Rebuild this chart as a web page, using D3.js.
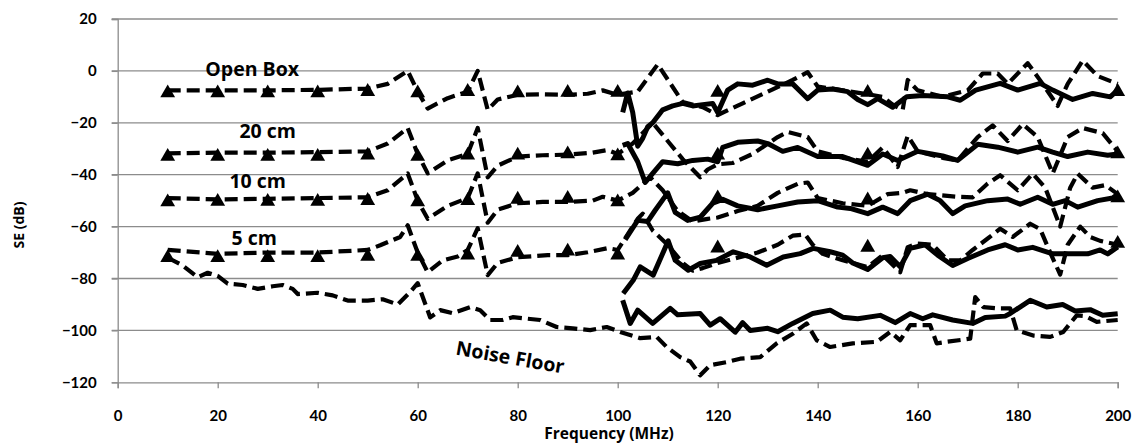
<!DOCTYPE html>
<html>
<head>
<meta charset="utf-8">
<script src="https://cdn.jsdelivr.net/npm/d3@7"></script>
<style>
  html, body { margin: 0; padding: 0; background: #fff; }
  svg { display: block; font-family: "Open Sans", Lato, sans-serif; font-weight: bold; }
</style>
</head>
<body>
<div id="chart"></div>
<script>
// tick values
const xTicks = [0, 20, 40, 60, 80, 100, 120, 140, 160, 180, 200]
const yTicks = [20, 0, -20, -40, -60, -80, -100, -120]

// dashed (swept) curves, [MHz, dB]
const openBoxDashed = [[10,-7.5],[20,-7.5],[30,-7.5],[40,-7.3],[50,-6.8],[54,-5],[58,0],[60,-8],[62,-14.5],[66,-10.5],[70,-8],[72,0],[74,-15],[76,-11],[80,-9.2],[85,-9],[90,-9.2],[94,-8.8],[97,-7.5],[100,-9.2],[104,-8],[108,2.5],[113,-12],[117,-14],[120,-17],[125,-12.5],[130,-8],[135,-3.5],[138,-0.5],[140,-6],[145,-7.5],[150,-9],[153,-10],[155,-13],[157,-15],[158,-3.5],[160,-7.5],[165,-10],[170,-7.5],[173,-1],[176,-1],[178,-5],[182,3],[185,-5],[188,-13.5],[190,-5],[193,4],[196,-2],[200,-5]]
const cm20Dashed = [[10,-31.8],[20,-31.5],[30,-31.5],[40,-31.3],[50,-31],[54,-28],[58,-22],[60,-32],[62,-39.5],[66,-34.5],[70,-32],[72,-22],[74,-41],[76,-36.5],[80,-33],[85,-32.5],[90,-32.3],[95,-31.5],[98,-30.5],[100,-32],[103,-28],[107,-20],[110,-27],[113,-34],[116.5,-41],[118,-38],[120,-36],[123,-35.5],[127,-32],[132,-25.5],[134,-23.5],[138,-25.5],[140,-31],[145,-33.5],[150,-35],[153,-29.5],[156,-37],[158,-25],[160,-31],[165,-33.5],[168,-34.5],[172,-25.5],[175,-21],[178,-27],[181,-20.5],[184,-25.5],[187,-39.5],[190,-25.5],[193,-22],[197,-24],[200,-31]]
const cm10Dashed = [[10,-49],[20,-49.5],[30,-49.3],[40,-49],[50,-48.7],[54,-46],[58,-39.5],[60,-50],[62,-57],[66,-52],[70,-49],[72,-39.5],[74,-58.5],[76,-53.5],[80,-51],[85,-50.5],[90,-50.5],[95,-50],[97,-48.5],[100,-50],[103,-47],[106.5,-41],[109,-46],[112,-54],[115,-58],[118,-57],[120,-56.5],[124,-54],[128,-52],[132,-47],[136,-43.5],[138,-43],[140,-49],[145,-51],[150,-52],[154,-47.5],[157,-47],[158.5,-46],[162,-47.5],[168,-48.5],[171,-48.7],[174,-43.4],[176.5,-40.2],[180,-46],[183,-39.6],[185.5,-45],[188.5,-60],[190.5,-45],[192,-39.6],[195,-45],[197.5,-44],[200,-47.5]]
const cm5Dashed = [[10,-69],[20,-70.5],[30,-70],[40,-70],[50,-69],[52.5,-67.2],[56.5,-64],[58,-59.5],[60,-70],[62,-77.6],[65,-73],[68,-71.5],[70,-69],[72,-60.6],[74,-78.7],[76,-74],[80,-71.8],[86,-71],[90,-71],[94,-69.9],[98,-68.3],[100,-69],[102,-63],[104,-57],[105,-55],[107,-61.5],[110,-67],[113,-74],[115,-77],[117,-76],[120,-74],[124,-72],[128,-70],[132,-67],[135,-63.5],[137.5,-63],[139,-67],[141,-70.5],[145,-73],[150,-75.6],[153,-71],[156.5,-77.6],[158,-67.9],[160,-66.5],[163,-67],[166,-73],[168.5,-73],[171,-69],[174,-64.6],[176.5,-60.8],[179,-64],[182.5,-58.9],[184.5,-61],[186.5,-70],[188.5,-78.5],[190,-67],[192.5,-60],[194.5,-64],[196.5,-65.5],[200,-67]]
const noiseDashed = [[10,-72],[13,-75],[16,-79.5],[18,-77.8],[20,-79],[22,-82],[25,-82.5],[28,-84],[31,-83],[33,-82.5],[35,-84],[36,-86],[40,-85.5],[43,-86.5],[46,-88.5],[50,-88.5],[53,-88],[56,-90],[58.5,-85.2],[60,-81.8],[62.5,-95],[64.5,-92.2],[67,-93.4],[70.5,-91],[72.5,-92.2],[74.5,-96],[77,-96],[79,-94.9],[82,-95.5],[84.5,-96],[87.8,-98.7],[91,-99.2],[94.5,-99.9],[97.8,-98.7],[100.5,-100.6],[104.5,-103],[107.8,-102.5],[109.8,-106.4],[112.5,-110.3],[114.5,-112],[116.5,-117.3],[118.5,-113.4],[121.8,-112.2],[124.5,-110.9],[128.5,-110.3],[131.8,-105],[135.1,-101.2],[137.8,-97.3],[139.8,-103.8],[142.5,-106.4],[147,-105],[151.8,-104.4],[154.5,-100.6],[156.5,-103.8],[158.5,-98],[162.5,-98],[163.8,-105],[165.8,-104.4],[170.5,-103.2],[171.5,-87.2],[173.1,-91],[176,-91.5],[178.5,-91.5],[179.8,-100],[183.1,-102],[186.5,-102.5],[189.1,-100.6],[191.8,-94.2],[193.5,-94.5],[195.8,-96.7],[200,-96]]

// solid curves above 100 MHz, [MHz, dB]
const openBoxSolid = [[101,-16],[102,-8.5],[103,-16],[104,-29],[105,-26],[106,-21.5],[107,-20],[109,-15],[111,-13.5],[113,-12.5],[115,-13.5],[117,-13],[119,-12.6],[120,-16],[122,-7.4],[124,-5],[127,-5.5],[130,-3.6],[132,-5],[135,-5],[138,-10.7],[140,-7.4],[143,-7],[146,-8],[148,-11],[150,-13],[152,-10.7],[155,-14],[157.8,-10],[161,-9.5],[166,-10],[168.5,-11.3],[171.6,-7.4],[176.5,-4.8],[180,-7.4],[184.5,-4.8],[187,-7.4],[191,-11],[195,-8.7],[198.5,-10],[200,-7.4]]
const cm20Solid = [[101,-28.7],[102,-28],[104,-35],[105.5,-43],[107,-39.5],[109,-35],[112,-35.8],[115,-34.5],[118,-34],[120,-35],[121,-29.5],[124,-27.5],[128,-27],[130,-28],[133,-31],[136,-29.5],[140,-33],[145,-33],[150,-36.4],[153,-32],[156,-34.5],[160,-31],[165,-32.8],[168,-34.5],[172,-28.3],[176,-29.4],[180,-31.3],[184,-29.4],[187,-31.3],[190,-33],[194,-31.3],[198,-32.5],[200,-32]]
const cm10Solid = [[101.5,-65],[104,-57.6],[106,-58],[107.5,-53.7],[110,-47],[111.5,-54.5],[114,-57.6],[116.5,-56.4],[119,-51],[121,-49.5],[124,-52],[128,-53.5],[132,-52],[136,-50.5],[140,-50],[144,-52.5],[146.5,-53],[150,-55],[153,-52.5],[156,-55],[158.5,-50],[162,-47.5],[164.5,-50],[167,-55],[169.5,-52],[174,-50],[178,-49.4],[180.5,-51.4],[184,-48.7],[187,-51.4],[189.5,-50],[192,-52.5],[196,-50],[199,-49],[200,-47.5]]
const cm5Solid = [[101.1,-85.8],[103.1,-80.7],[104.5,-75.5],[107.1,-78.7],[110.1,-65.5],[111.5,-73],[114.1,-76.8],[116.5,-74.2],[119.8,-73],[123.1,-69.7],[126.5,-71.7],[129.8,-74.9],[133.1,-71.7],[136.5,-70.4],[139.1,-68.4],[142.5,-69.7],[145,-71],[147,-74],[150,-76.5],[153,-72],[154.5,-71.5],[156.5,-75.5],[158.5,-68.4],[161.5,-67],[164,-71],[167,-75],[170,-72.3],[174,-69],[177.5,-67],[180,-69],[183,-68],[187,-70.5],[189.5,-70.5],[194,-70.5],[196.5,-69],[198,-70.5],[200,-67.8]]
const noiseSolid = [[101,-88.4],[102.5,-97.3],[104,-92.2],[107,-97.3],[110.5,-91.5],[112,-94],[116.5,-93.5],[118.5,-98],[120.5,-95.5],[123.5,-100.7],[125,-97],[126.5,-100],[130,-99.2],[132,-100.5],[135,-97.3],[139,-93.5],[142.5,-92.2],[145,-94.9],[148,-95.5],[152.5,-94.2],[155.5,-97],[158.5,-93.5],[161,-95.5],[163,-94],[167,-96],[171,-97.3],[173.5,-95],[177.5,-94.5],[178.5,-93.5],[182.5,-88.4],[185.8,-91],[189,-90],[191.5,-92.5],[194.5,-92],[197,-94.2],[200,-93.6]]

// triangle markers
const markerFreqs = [10, 20, 30, 40, 50, 60, 70, 80, 90, 100, 120, 150, 200]
const openBoxMarks = [-8.5, -8.5, -8.5, -8.5, -8, -8.5, -8, -8.5, -8.3, -8.3, -8.3, -8.3, -8]
const cm20Marks = [-33, -33, -33, -33, -32.5, -33, -32.5, -32.5, -32, -32.8, -32.5, -32.5, -32]
const cm10Marks = [-50.5, -50.3, -50.3, -50.3, -50, -50.5, -50, -49.5, -49.2, -50.5, -49, -49.8, -49]
const cm5Marks = [-72, -72, -72, -72, -71.5, -71.5, -71, -70, -69.5, -71, -68.3, -68, -66.5]

// curve labels [text, MHz, dB, angle]
const curveLabels = [
    ['Open Box', 26.9, -2, 0],
    ['20 cm', 30, -26, 0],
    ['10 cm', 28, -45.2, 0],
    ['5 cm', 27.3, -67.2, 0],
    ['Noise Floor', 78.5, -110.4, 10]
]

const W = 1136, H = 443
const margin = {left: 117.7, right: W - 1117.7, top: 19, bottom: H - 382.3}

const svg = d3.select('#chart').append('svg')
    .attr('width', W)
    .attr('height', H)

const x = d3.scaleLinear().domain([0, 200]).range([margin.left, W - margin.right])
const y = d3.scaleLinear().domain([-120, 20]).range([H - margin.bottom, margin.top])

// gridlines
svg.append('g')
    .selectAll('line')
    .data(yTicks.filter(d => d > -120))
    .enter()
    .append('line')
    .attr('x1', x(0) - 6)
    .attr('x2', x(200))
    .attr('y1', d => y(d))
    .attr('y2', d => y(d))
    .attr('stroke', '#8c8c8c')
    .attr('stroke-width', 1.3)

// y axis
const yAxis = svg.append('g')
    .attr('transform', `translate(${x(0)},0)`)
    .call(d3.axisLeft(y).tickValues(yTicks).tickSize(6).tickPadding(15))
yAxis.select('.domain').attr('stroke', '#8c8c8c').attr('stroke-width', 1.3)
yAxis.selectAll('.tick line').attr('stroke', '#8c8c8c').attr('stroke-width', 1.3)
yAxis.selectAll('.tick text')
    .attr('font-size', 15)
    .attr('font-family', 'Lato, sans-serif')
    .attr('font-weight', 'bold')
    .attr('fill', '#000')

// x axis
const xAxis = svg.append('g')
    .attr('transform', `translate(0,${y(-120)})`)
    .call(d3.axisBottom(x).tickValues(xTicks).tickSize(6).tickPadding(22))
xAxis.select('.domain').attr('stroke', '#8c8c8c').attr('stroke-width', 1.3)
xAxis.selectAll('.tick line').attr('stroke', '#8c8c8c').attr('stroke-width', 1.3)
xAxis.selectAll('.tick text')
    .attr('font-size', 15)
    .attr('font-family', 'Lato, sans-serif')
    .attr('font-weight', 'bold')
    .attr('fill', '#000')

// axis titles
svg.append('text')
    .attr('x', 609)
    .attr('y', 439)
    .attr('text-anchor', 'middle')
    .attr('font-size', 15.5)
    .text('Frequency (MHz)')

svg.append('text')
    .attr('transform', 'translate(24,225) rotate(-90)')
    .attr('text-anchor', 'middle')
    .attr('font-size', 14)
    .text('SE (dB)')

const line = d3.line()
    .x(d => x(d[0]))
    .y(d => y(d[1]))

const plot = svg.append('g')

const dashedSeries = [openBoxDashed, cm20Dashed, cm10Dashed, cm5Dashed, noiseDashed]
const solidSeries = [openBoxSolid, cm20Solid, cm10Solid, cm5Solid, noiseSolid]

plot.selectAll('.dashed')
    .data(dashedSeries)
    .enter()
    .append('path')
    .attr('class', 'dashed')
    .attr('d', line)
    .attr('fill', 'none')
    .attr('stroke', '#000')
    .attr('stroke-width', 4.2)
    .attr('stroke-dasharray', '13,6')
    .attr('stroke-linejoin', 'round')

plot.selectAll('.solid')
    .data(solidSeries)
    .enter()
    .append('path')
    .attr('class', 'solid')
    .attr('d', line)
    .attr('fill', 'none')
    .attr('stroke', '#000')
    .attr('stroke-width', 5)
    .attr('stroke-linejoin', 'round')

const markSets = [openBoxMarks, cm20Marks, cm10Marks, cm5Marks]
const tri = d3.symbol().type(d3.symbolTriangle).size(95)
markSets.forEach(vals => {
    plot.append('g')
        .selectAll('path')
        .data(vals.map((v, i) => [markerFreqs[i], v]))
        .enter()
        .append('path')
        .attr('d', tri)
        .attr('transform', d => `translate(${x(d[0])},${y(d[1])})`)
        .attr('fill', '#000')
})

// labels
svg.selectAll('.curve-label')
    .data(curveLabels)
    .enter()
    .append('text')
    .attr('class', 'curve-label')
    .attr('transform', d => `translate(${x(d[1])},${y(d[2])}) rotate(${d[3]})`)
    .attr('text-anchor', 'middle')
    .attr('dy', d => d[3] ? '0.35em' : 0)
    .attr('font-size', 19.5)
    .text(d => d[0])
</script>
</body>
</html>
